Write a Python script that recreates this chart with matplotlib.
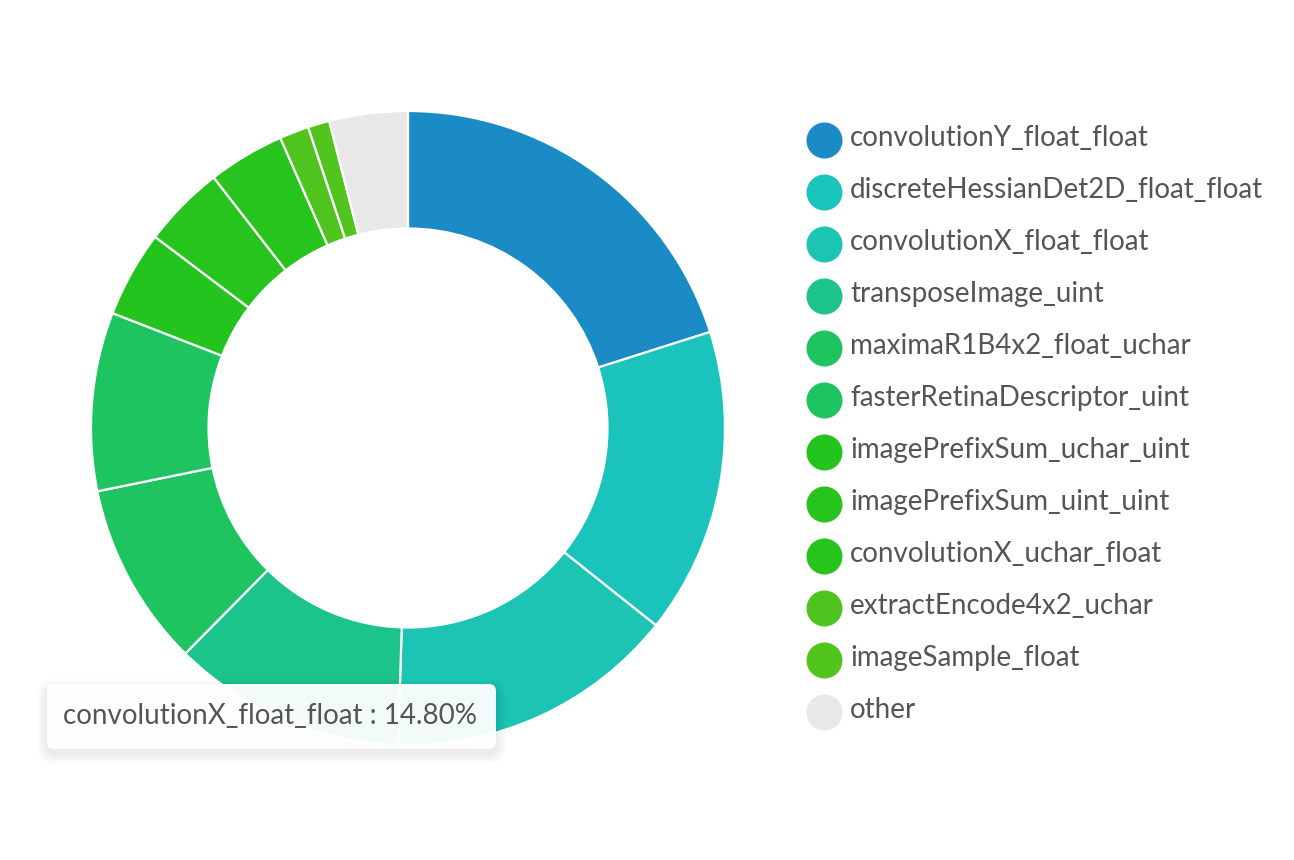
import matplotlib
matplotlib.use("Agg")
import matplotlib.pyplot as plt
from matplotlib.patches import FancyBboxPatch

labels = [
    "convolutionY_float_float",
    "discreteHessianDet2D_float_float",
    "convolutionX_float_float",
    "transposeImage_uint",
    "maximaR1B4x2_float_uchar",
    "fasterRetinaDescriptor_uint",
    "imagePrefixSum_uchar_uint",
    "imagePrefixSum_uint_uint",
    "convolutionX_uchar_float",
    "extractEncode4x2_uchar",
    "imageSample_float",
    "other",
]
values = [20.1, 15.6, 14.8, 11.9, 9.4, 9.1, 4.4, 4.2, 3.9, 1.5, 1.1, 4.0]
colors = [
    "#1b8bc6", "#1bc3bd", "#1cc4b4", "#1cc48b", "#1dc460", "#1dc460",
    "#24c41e", "#26c41d", "#27c41d", "#4fc41e", "#52c41e", "#e8e8e8",
]
tooltip_label = "convolutionX_float_float"
tooltip_value = "14.80%"

W, H = 1294, 860
fig = plt.figure(figsize=(W / 100, H / 100), dpi=100)
ax = fig.add_axes([0, 0, 1, 1])

cx, cy = 408, H - 428
r_out, r_in = 317, 199.5
ax.pie(values, colors=colors, startangle=90, counterclock=False,
       center=(cx, cy), radius=r_out, frame=True,
       wedgeprops=dict(width=r_out - r_in, edgecolor="white", linewidth=1.6))

ax.set_xlim(0, W)
ax.set_ylim(0, H)
ax.set_aspect("equal")
ax.axis("off")

text_color = "#555555"
font = ["Lato", "DejaVu Sans"]
fs = 20

# legend
lx, ly0, dy = 824, H - 140, 52
for i, (lab, col) in enumerate(zip(labels, colors)):
    y = ly0 - i * dy
    ax.scatter([lx], [y], s=(36 * 0.72) ** 2, color=col, zorder=5, linewidths=0)
    ax.text(lx + 26, y + 2, lab, fontsize=fs, family=font, color=text_color,
            va="center", ha="left")

# tooltip
bx0, by0, bx1, by1 = 47, H - 749, 496, H - 684
for k in range(10):
    pad = 1 + k * 2.2
    sh = FancyBboxPatch((bx0 - pad / 2, by0 - 5 - pad / 2),
                        bx1 - bx0 + pad, by1 - by0 + pad,
                        boxstyle="round,pad=0,rounding_size=%g" % (8 + pad / 2),
                        facecolor="black", edgecolor="none", alpha=0.009, zorder=8)
    ax.add_patch(sh)
box = FancyBboxPatch((bx0, by0), bx1 - bx0, by1 - by0,
                     boxstyle="round,pad=0,rounding_size=7",
                     facecolor="white", edgecolor="none", alpha=0.955, zorder=9)
ax.add_patch(box)
ax.text(63, (by0 + by1) / 2 + 1, f"{tooltip_label} : {tooltip_value}",
        fontsize=fs, family=font, color=text_color, va="center", ha="left", zorder=10)

fig.savefig("out.png", dpi=100, facecolor="white")
